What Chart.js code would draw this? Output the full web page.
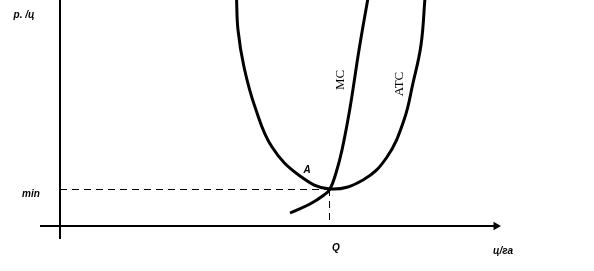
<!DOCTYPE html>
<html>
<head>
<meta charset="utf-8">
<script src="https://cdn.jsdelivr.net/npm/chart.js@4"></script>
<style>
  html, body { margin: 0; padding: 0; background: #fff; }
  #wrap { width: 594px; height: 271px; }
</style>
</head>
<body>
<div id="wrap"><canvas id="chart" width="594" height="271"></canvas></div>
<script>
// quantity (x) and price (y)
const atcX = [17.65, 17.8, 18.4, 19.5, 21.2, 24.0, 27.0, 30.3, 32.7, 34.4, 35.3, 36.1, 36.5];
const atcY = [22.8, 19.6, 15.9, 11.9, 7.9, 5.0, 3.7, 4.6, 6.9, 10.6, 14.3, 18.1, 22.8];
const mcX = [23.0, 25.0, 26.4, 27.0, 27.6, 28.2, 29.0, 29.9, 30.8];
const mcY = [1.3, 2.2, 3.1, 3.7, 5.3, 7.6, 11.8, 17.6, 22.8];
const minPrice = 3.7;
const qOpt = 27.0;

const toPts = (xs, ys) => xs.map((x, i) => ({ x: x, y: ys[i] }));

// text labels, anchored in data coordinates
const labels = [
  { text: 'р. /ц', x: -3.6, y: 21.1, font: 'italic bold 10px "Liberation Sans"' },
  { text: 'min', x: -2.9, y: minPrice - 0.5, font: 'italic bold 10px "Liberation Sans"' },
  { text: 'Q', x: qOpt + 0.6, y: -2.2, font: 'italic bold 10px "Liberation Sans"' },
  { text: 'ц/га', x: 44.3, y: -2.5, font: 'italic bold 10px "Liberation Sans"' },
  { text: 'A', x: 24.7, y: 5.6, font: 'italic bold 10px "Liberation Sans"' },
  { text: 'MC', x: 28.1, y: 14.6, font: '13px "Liberation Serif"', rot: true },
  { text: 'ATC', x: 34.0, y: 14.2, font: '13px "Liberation Serif"', rot: true }
];

const textPlugin = {
  id: 'texts',
  afterDatasetsDraw(chart) {
    const ctx = chart.ctx;
    const xs = chart.scales.x, ys = chart.scales.y;
    ctx.save();
    ctx.fillStyle = '#000';
    ctx.textAlign = 'center';
    ctx.textBaseline = 'middle';
    labels.forEach(l => {
      const px = xs.getPixelForValue(l.x), py = ys.getPixelForValue(l.y);
      ctx.font = l.font;
      if (l.rot) {
        ctx.save();
        ctx.translate(px, py);
        ctx.rotate(-Math.PI / 2);
        ctx.fillText(l.text, 0, 0);
        ctx.restore();
      } else {
        ctx.fillText(l.text, px, py);
      }
    });
    ctx.restore();
  }
};

new Chart(document.getElementById('chart'), {
  type: 'scatter',
  data: {
    datasets: [
      { // y axis
        data: [{ x: 0, y: 22.7 }, { x: 0, y: -1.3 }],
        showLine: true, borderColor: '#000', borderWidth: 2, pointRadius: 0
      },
      { // x axis with arrow
        data: [{ x: -2, y: 0 }, { x: 43.6, y: 0 }],
        showLine: true, borderColor: '#000', borderWidth: 2,
        pointRadius: [0, 5], pointStyle: 'triangle', rotation: 90,
        backgroundColor: '#000', pointBorderWidth: 0
      },
      { // dashed min line
        data: [{ x: 0, y: minPrice - 0.05 }, { x: qOpt, y: minPrice - 0.05 }],
        showLine: true, borderColor: '#000', borderWidth: 1, borderDash: [7, 5], pointRadius: 0
      },
      { // dashed Q line
        data: [{ x: qOpt - 0.05, y: minPrice }, { x: qOpt - 0.05, y: 0 }],
        showLine: true, borderColor: '#000', borderWidth: 1, borderDash: [7, 5], pointRadius: 0
      },
      {
        label: 'ATC',
        data: toPts(atcX, atcY),
        showLine: true, borderColor: '#000', borderWidth: 3, pointRadius: 0,
        tension: 0.4
      },
      {
        label: 'MC',
        data: toPts(mcX, mcY),
        showLine: true, borderColor: '#000', borderWidth: 3, pointRadius: 0,
        tension: 0.4
      }
    ]
  },
  options: {
    responsive: false,
    animation: false,
    layout: { padding: 0, autoPadding: false },
    plugins: { legend: { display: false }, tooltip: { enabled: false } },
    scales: {
      x: { type: 'linear', min: -6, max: 53.4, display: false },
      y: { type: 'linear', min: -4.5, max: 22.6, display: false }
    }
  },
  plugins: [textPlugin]
});
</script>
</body>
</html>
